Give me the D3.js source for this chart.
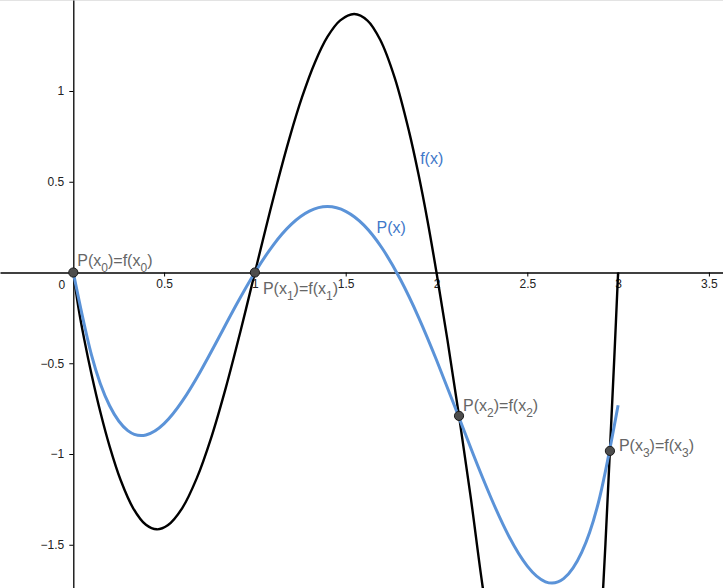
<!DOCTYPE html>
<html>
<head>
<meta charset="utf-8">
<script src="https://cdn.jsdelivr.net/npm/d3@7"></script>
<style>
  html, body { margin: 0; padding: 0; background: #fff; }
  svg { display: block; font-family: "Liberation Sans", Arial, sans-serif; }
</style>
</head>
<body>
<svg id="chart" width="723" height="588"></svg>
<script>
// ---- data ----
const fX = [0, 0.03, 0.06, 0.10, 0.15, 0.20, 0.26, 0.33, 0.40, 0.46, 0.52, 0.60, 0.68, 0.76, 0.84, 0.92, 1.00,
            1.06, 1.12, 1.19, 1.26, 1.33, 1.40, 1.47, 1.547, 1.62, 1.69, 1.77, 1.85, 1.90, 1.95, 2.00,
            2.06, 2.124, 2.19, 2.254, 2.35, 2.45, 2.55, 2.65, 2.75, 2.82, 2.87, 2.918, 2.955, 2.98, 3.00];
const fY = [0, -0.204, -0.367, -0.559, -0.773, -0.958, -1.142, -1.299, -1.390, -1.415, -1.393, -1.298, -1.133, -0.908, -0.634, -0.326, 0,
            0.244, 0.481, 0.739, 0.967, 1.156, 1.299, 1.389, 1.424, 1.388, 1.282, 1.072, 0.772, 0.545, 0.288, 0,
            -0.37, -0.79, -1.25, -1.73, -2.35, -2.90, -3.30, -3.50, -3.40, -3.00, -2.50, -1.73, -0.98, -0.45, 0];

const pX = [0, 0.1, 0.2, 0.3, 0.4, 0.5, 0.6, 0.7, 0.8, 0.9, 1.0, 1.1, 1.2, 1.3, 1.4, 1.5,
            1.6, 1.7, 1.8, 1.9, 2.0, 2.1, 2.2, 2.3, 2.4, 2.5, 2.6, 2.7, 2.8, 2.9, 3.0];
const pY = [0, -0.454, -0.734, -0.871, -0.895, -0.833, -0.709, -0.545, -0.361, -0.174, 0, 0.150, 0.265, 0.338, 0.363, 0.337,
            0.261, 0.135, -0.036, -0.244, -0.482, -0.737, -0.996, -1.241, -1.456, -1.618, -1.704, -1.687, -1.541, -1.233, -0.731];

const nodeX = [0, 1, 2.124, 2.955];
const nodeY = [0, 0, -0.79, -0.983];
const nodeLabels = ["P(x_0)=f(x_0)", "P(x_1)=f(x_1)", "P(x_2)=f(x_2)", "P(x_3)=f(x_3)"];

const xTicks = [0.5, 1, 1.5, 2, 2.5, 3, 3.5];
const yTicks = [-1.5, -1, -0.5, 0.5, 1];
const curveLabels = ["f(x)", "P(x)"];

// ---- layout / style ----
const W = 723, H = 588;
const labelOffsets = [[4, -7], [8, 21], [4, -5], [9, 0]];
const curveLabelPos = [[1.91, 0.60], [1.67, 0.215]];

const svg = d3.select("#chart");
const x = d3.scaleLinear().domain([-73.3 / 181.6, (W - 73.3) / 181.6]).range([0, W]);
const y = d3.scaleLinear().domain([272.5 / 181.5, (272.5 - H) / 181.5]).range([0, H]);

svg.append("defs").append("clipPath").attr("id", "clip")
  .append("rect").attr("x", 0).attr("y", 0).attr("width", W).attr("height", H);

// faint top border
svg.append("line").attr("x1", 0).attr("x2", W).attr("y1", 0.5).attr("y2", 0.5)
  .attr("stroke", "#e3e3e3").attr("stroke-width", 1);

const fmt = d3.format("");

// x axis
const gx = svg.append("g").attr("transform", `translate(0,${y(0)})`)
  .call(d3.axisBottom(x).tickValues(xTicks).tickSize(4).tickSizeOuter(0).tickPadding(3).tickFormat(fmt));
gx.select(".domain").attr("stroke", "#000").attr("stroke-width", 1.3);
gx.selectAll(".tick line").attr("stroke", "#000");
gx.selectAll(".tick text").attr("font-size", 12).attr("fill", "#222")
  .attr("font-family", "'Liberation Sans', Arial, sans-serif");

// y axis
const gy = svg.append("g").attr("transform", `translate(${x(0)},0)`)
  .call(d3.axisLeft(y).tickValues(yTicks).tickSize(4).tickSizeOuter(0).tickPadding(5).tickFormat(fmt));
gy.select(".domain").attr("stroke", "#000").attr("stroke-width", 1.3);
gy.selectAll(".tick line").attr("stroke", "#000");
gy.selectAll(".tick text").attr("font-size", 12).attr("fill", "#222")
  .attr("font-family", "'Liberation Sans', Arial, sans-serif");

// origin label
svg.append("text").attr("x", x(0) - 8).attr("y", y(0) + 16).attr("text-anchor", "end")
  .attr("font-size", 12).attr("fill", "#222").text("0");

const plot = svg.append("g").attr("clip-path", "url(#clip)");

// f(x)
const fData = fX.map((v, i) => [v, fY[i]]);
plot.append("path").datum(fData)
  .attr("fill", "none").attr("stroke", "#000").attr("stroke-width", 2.4)
  .attr("stroke-linejoin", "round")
  .attr("d", d3.line().x(d => x(d[0])).y(d => y(d[1])).curve(d3.curveCatmullRom.alpha(0.5)));

// P(x)
const pData = pX.map((v, i) => [v, pY[i]]);
plot.append("path").datum(pData)
  .attr("fill", "none").attr("stroke", "#5b93d8").attr("stroke-width", 3)
  .attr("stroke-linejoin", "round")
  .attr("d", d3.line().x(d => x(d[0])).y(d => y(d[1])).curve(d3.curveNatural));

// curve labels
curveLabels.forEach((t, i) => {
  svg.append("text").attr("x", x(curveLabelPos[i][0])).attr("y", y(curveLabelPos[i][1]))
    .attr("font-size", 16).attr("fill", "#3f78c9").text(t);
});

// points
nodeX.forEach((v, i) => {
  svg.append("circle").attr("cx", x(v)).attr("cy", y(nodeY[i])).attr("r", 4.6)
    .attr("fill", "#4d4d4d").attr("stroke", "#1a1a1a").attr("stroke-width", 1);
});

// point labels with subscripts
nodeLabels.forEach((lab, i) => {
  const t = svg.append("text")
    .attr("x", x(nodeX[i]) + labelOffsets[i][0])
    .attr("y", y(nodeY[i]) + labelOffsets[i][1])
    .attr("font-size", 16).attr("fill", "#666");
  const parts = lab.split(/_(\d)/);
  parts.forEach((p, k) => {
    if (!p) return;
    if (k % 2 === 1) {
      t.append("tspan").attr("dy", 6).attr("font-size", 12).text(p);
    } else {
      const ts = t.append("tspan").text(p);
      if (k > 0) ts.attr("dy", -6);
    }
  });
});
</script>
</body>
</html>
